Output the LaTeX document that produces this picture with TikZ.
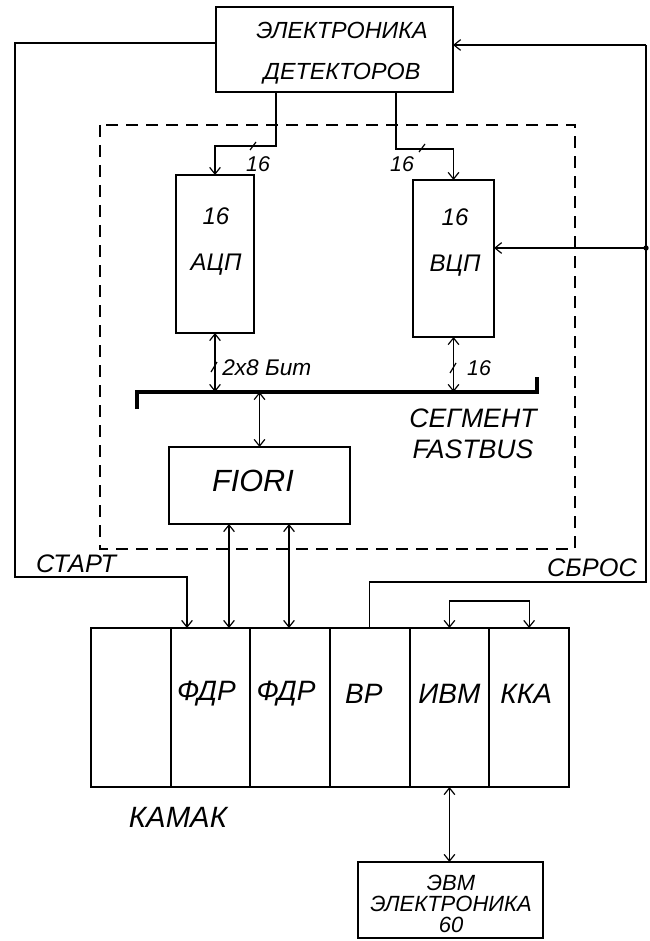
\documentclass[tikz,border=0pt]{standalone}
\usepackage{fontspec}
\setmainfont{Liberation Sans}
\usetikzlibrary{positioning}
\usetikzlibrary{arrows.meta}
\usetikzlibrary{calc}
\tikzset{blk/.style = {draw, line width=1.5pt, inner sep=0, outer sep=0}}
\tikzset{conn/.style = {line width=0.9pt}}
\tikzset{arr/.style = {conn, -{Straight Barb[length=5pt,width=8pt]}}}
\tikzset{dbl/.style = {conn, {Straight Barb[length=5pt,width=8pt]}-{Straight Barb[length=5pt,width=8pt]}}}
\tikzset{bus/.style = {line width=3pt}}
\tikzset{lbl/.style 2 args = {inner sep=0, align=center,
                              font=\itshape\fontsize{#1}{#2}\selectfont}}
\tikzset{slot/.style = {blk, minimum width=59.75pt, minimum height=119.25pt}}

\begin{document}
\begin{tikzpicture}[x=0.75pt, y=-0.75pt]
      \useasboundingbox (0,0) rectangle (649,941);

      % detector electronics
      \node[blk, minimum width=177.75pt, minimum height=63.75pt] (det) at (334.5,49.5) {};
      \node[lbl={17.5}{30.75}] (detT) at (342,53) {ЭЛЕКТРОНИКА\\ДЕТЕКТОРОВ};

      % FASTBUS segment
      \draw[conn, dash pattern=on 9pt off 6pt] (100,125) rectangle (575,549);
      \node[blk, minimum width=58.5pt, minimum height=118.5pt] (adc) at (215,254) {};
      \node[blk, minimum width=60.75pt, minimum height=117.75pt] (tdc) at (453.5,258.5) {};
      \node[lbl={18}{34.5}] (adcT) at (216,242) {16\\АЦП};
      \node[lbl={18}{34.5}] (tdcT) at (455,243) {16\\ВЦП};

      \coordinate (dA) at ($(det.south)+(-58.5,0)$);
      \coordinate (dB) at ($(det.south)+(61.5,0)$);
      \coordinate (kA) at (215,146);
      \coordinate (kB) at (453.5,149);
      \draw[arr] (dA) |- (kA) -- (adc.north);
      \draw[arr] (dB) |- (kB) -- (tdc.north);
      \draw[conn] (250,150) -- (256,142);
      \draw[conn] (419,152) -- (425,144);
      \node[lbl={16}{16}] (nA) at (258,164) {16};
      \node[lbl={16}{16}] (nB) at (402,164) {16};

      \coordinate (busL) at (137,392);
      \coordinate (busR) at (537,392);
      \draw[bus] (busL) ++(0,17) -- (busL) -- (busR) -- ++(0,-15);
      \draw[dbl] (adc.south) -- (adc.south |- busL);
      \draw[dbl] (tdc.south) -- (tdc.south |- busL);
      \draw[conn] (211,372) -- (217,362);
      \draw[conn] (450,373) -- (456,363);
      \node[lbl={17}{17}, anchor=west] (wA) at (222,368) {2x8 Бит};
      \node[lbl={16}{16}] (wB) at (479,368) {16};
      \node[lbl={20}{23.25}] (segT) at (473,434) {СЕГМЕНТ\\FASTBUS};

      \node[blk, minimum width=135.75pt, minimum height=57.75pt] (fiori) at (259.5,485.5) {};
      \node[lbl={23}{23}] (fioriT) at (253,481) {FIORI};
      \draw[dbl] (fiori.north |- busL) -- (fiori.north);

      % CAMAC crate
      \node[slot] (emp) at (130.8,707.5) {};
      \node[slot, right=0pt of emp] (fdrA) {};
      \node[slot, right=0pt of fdrA] (fdrB) {};
      \node[slot, right=0pt of fdrB] (vr) {};
      \node[slot, right=0pt of vr] (ivm) {};
      \node[slot, right=0pt of ivm] (kka) {};
      \node[lbl={21}{21}] (fdrAt) at ($(fdrA.center)+(-4,-14)$) {ФДР};
      \node[lbl={21}{21}] (fdrBt) at ($(fdrB.center)+(-4,-14)$) {ФДР};
      \node[lbl={21}{21}] (vrt) at ($(vr.center)+(-6,-14)$) {ВР};
      \node[lbl={21}{21}] (ivmt) at ($(ivm.center)+(0,-14)$) {ИВМ};
      \node[lbl={21}{21}] (kkat) at ($(kka.center)+(-3,-14)$) {ККА};
      \node[lbl={22}{22}] (camT) at (178,817) {КАМАК};

      \coordinate (lp) at (490,601);
      \draw[dbl] (ivm.north) |- (lp) -| (kka.north);

      \coordinate (fA) at ($(fiori.south)+(-30.5,0)$);
      \coordinate (fB) at ($(fiori.south)+(29.5,0)$);
      \draw[dbl] (fA) -- (fA |- fdrA.north);
      \draw[dbl] (fB) -- (fB |- fdrB.north);

      % start and reset lines
      \node[lbl={19}{19}] (stT) at (76,564) {СТАРТ};
      \node[lbl={19}{19}] (rsT) at (592,568) {СБРОС};
      \coordinate (lT) at (15,43);
      \coordinate (st) at (187,577);
      \draw[arr] (lT -| det.west) -- (lT) |- (st) -- (st |- fdrA.north);
      \coordinate (rT) at (646,45);
      \coordinate (rM) at (646,248);
      \coordinate (rB) at (646,582);
      \draw[arr] (rT) -- (rT -| det.east);
      \draw[arr] (rM) -- (rM -| tdc.east);
      \fill (rM) circle (2pt);
      \draw[conn] (rT) -- (rB) -| (vr.north);

      % computer
      \node[blk, minimum width=138.75pt, minimum height=57pt] (evm) at (450.5,900) {};
      \node[lbl={16.5}{15.75}] (evmT) at (451,904) {ЭВМ\\ЭЛЕКТРОНИКА\\60};
      \draw[dbl] (ivm.south) -- (ivm.south |- evm.north);
    \end{tikzpicture}
\end{document}
